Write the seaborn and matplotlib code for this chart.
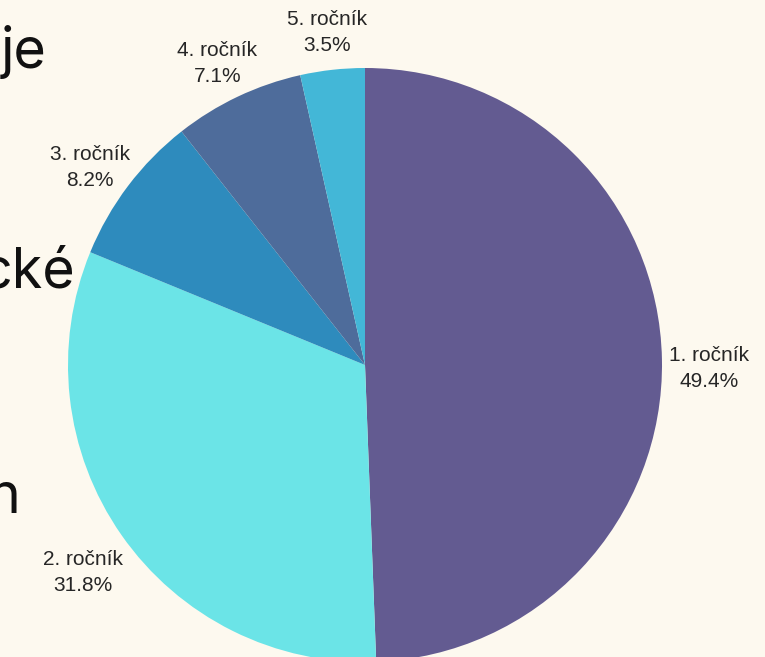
import matplotlib
matplotlib.use('Agg')
import matplotlib.pyplot as plt
import seaborn as sns

sns.set_theme(style='white')
plt.rcParams['font.family'] = ['Liberation Sans', 'DejaVu Sans']

labels = ['1. ročník', '2. ročník', '3. ročník', '4. ročník', '5. ročník']
values = [49.4, 31.8, 8.2, 7.1, 3.5]
colors = ['#635b91', '#6be4e7', '#2e8bbd', '#4e6c9b', '#43b7d7']
side_text = ['je', 'cké', 'n']

bg = '#fdf9ef'
fig = plt.figure(figsize=(7.65, 6.57), dpi=100, facecolor=bg)
ax = fig.add_axes([68 / 765, -5 / 657, 594 / 765, 594 / 657])
ax.set_facecolor(bg)

wedges, texts, autotexts = ax.pie(values, labels=labels, colors=colors, startangle=90,
                                  counterclock=False, autopct='%1.1f%%', pctdistance=0,
                                  labeldistance=1.16, wedgeprops={'linewidth': 0})
for t, a in zip(texts, autotexts):
    t.set_text(t.get_text() + '\n' + a.get_text())
    t.set_horizontalalignment('center')
    t.set_verticalalignment('center')
    t.set_fontsize(15)
    t.set_linespacing(1.45)
    x, y = t.get_position()
    t.set_position((x, y - 10 / 297))
    a.set_visible(False)
ax.set_xlim(-1, 1)
ax.set_ylim(-1, 1)

# zbytky textu ze slajdu vlevo
ys = [68, 288, 513]
xs = [47, 75, 20]
for s, x, y in zip(side_text, xs, ys):
    fig.text(x / 765, 1 - y / 657, s, ha='right', va='baseline', fontsize=40,
             color='#111111', family=['Inter', 'DejaVu Sans'])

fig.savefig('out.png', dpi=100, facecolor=bg)
